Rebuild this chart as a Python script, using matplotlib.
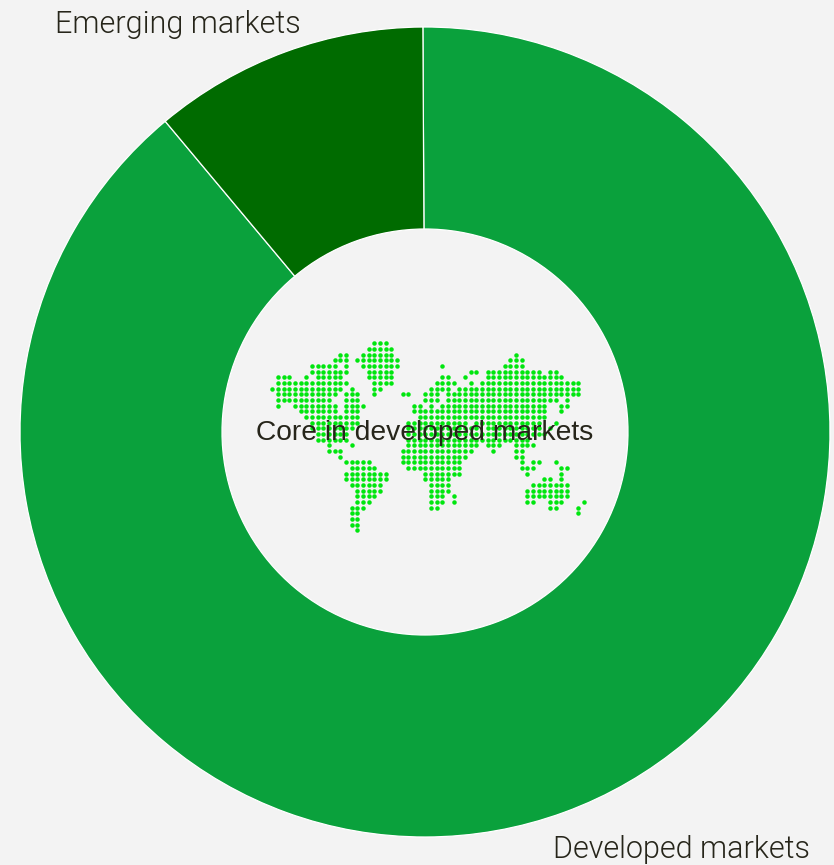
import matplotlib
matplotlib.use("Agg")
import matplotlib.pyplot as plt

# Portfolio split
segment_names = ["Developed markets", "Emerging markets"]
segment_shares = [89, 11]
segment_colors = ["#0aa13c", "#006b00"]
center_title = "Core in developed markets"

# Dotted world map: row index -> inclusive column spans
map_rows = {
    0: [(18, 20)],
    1: [(17, 21)],
    2: [(12, 13), (16, 21), (43, 43)],
    3: [(11, 13), (15, 22), (42, 44)],
    4: [(7, 11), (13, 13), (16, 22), (30, 30), (41, 44)],
    5: [(7, 13), (17, 21), (35, 36), (38, 47), (49, 50)],
    6: [(1, 3), (6, 6), (8, 12), (17, 21), (30, 31), (34, 34), (38, 51)],
    7: [(1, 13), (18, 21), (29, 32), (35, 35), (37, 54)],
    8: [(0, 12), (14, 14), (18, 19), (28, 31), (33, 54)],
    9: [(1, 11), (13, 15), (18, 18), (23, 24), (27, 29), (31, 54)],
    10: [(1, 10), (13, 15), (27, 29), (31, 50), (52, 52)],
    11: [(1, 1), (4, 11), (13, 16), (25, 26), (28, 28), (30, 48), (51, 52)],
    12: [(5, 11), (13, 15), (25, 48), (51, 51)],
    13: [(6, 15), (26, 48)],
    14: [(7, 15), (24, 34), (36, 47), (50, 50)],
    15: [(7, 14), (24, 36), (38, 47), (49, 49)],
    16: [(8, 13), (24, 48)],
    17: [(8, 13), (24, 45)],
    18: [(10, 10), (14, 14), (24, 36), (38, 40), (43, 46)],
    19: [(10, 12), (23, 35), (39, 39), (43, 44)],
    20: [(12, 12), (23, 34), (43, 44)],
    21: [(13, 17), (23, 33), (44, 44), (46, 47), (50, 50)],
    22: [(14, 18), (24, 33), (44, 46), (51, 52)],
    23: [(13, 20), (27, 33), (45, 45), (51, 51)],
    24: [(13, 20), (27, 31), (48, 49), (51, 51)],
    25: [(14, 19), (28, 31), (46, 52)],
    26: [(15, 19), (28, 31), (45, 52)],
    27: [(15, 18), (28, 30), (32, 32), (45, 52)],
    28: [(15, 17), (28, 30), (32, 32), (45, 46), (49, 51), (55, 55)],
    29: [(14, 16), (28, 29), (49, 50), (54, 54)],
    30: [(14, 15), (54, 54)],
    31: [(14, 15)],
    32: [(14, 15)],
    33: [(15, 15)],
}

W, H = 834, 865
BG = "#f3f3f3"
INK = "#26251a"

fig = plt.figure(figsize=(W / 100, H / 100), dpi=100, facecolor=BG)
ax = fig.add_axes([0, 0, 1, 1], facecolor=BG)

wedges, _ = ax.pie(
    segment_shares,
    colors=segment_colors,
    center=(425, H - 432),
    radius=405,
    startangle=90.3,
    counterclock=False,
    frame=True,
    wedgeprops=dict(width=202, edgecolor="#ffffff", linewidth=0.9),
)
ax.set_xlim(0, W)
ax.set_ylim(0, H)
ax.set_aspect("equal")
ax.axis("off")

# Expand the column spans into dots on the map grid
pitch = 5.667
dots_x, dots_y = [], []
for row, spans in map_rows.items():
    for start, stop in spans:
        for col in range(start, stop + 1):
            dots_x.append(272.3 + col * pitch)
            dots_y.append(H - (343.3 + row * pitch))
ax.scatter(dots_x, dots_y, s=10.5, color="#00e60f", linewidths=0, zorder=3)

ax.text(425, H - 433.5, center_title, ha="center", va="center", fontsize=20.3,
        family="Liberation Sans", color=INK, zorder=4)
ax.text(55, H - 33, segment_names[1], ha="left", va="baseline", fontsize=22,
        family="Roboto", weight=300, color=INK, zorder=4)
ax.text(810, H - 858, segment_names[0], ha="right", va="baseline", fontsize=22,
        family="Roboto", weight=300, color=INK, zorder=4)

fig.savefig("out.png", dpi=100, facecolor=BG)
